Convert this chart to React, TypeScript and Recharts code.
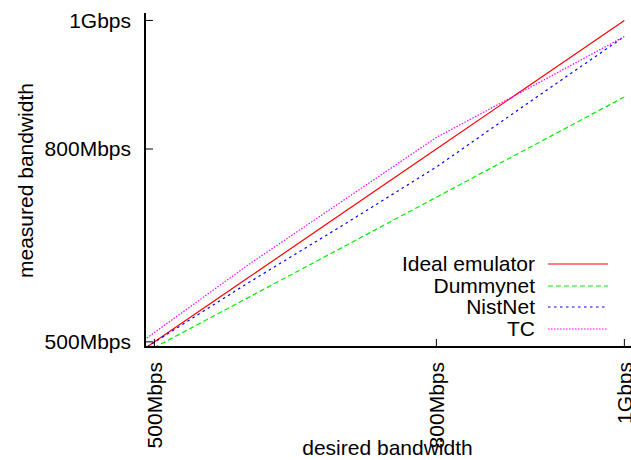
import React from "react";
import { LineChart, Line, XAxis, YAxis, Legend } from "recharts";

// desired bandwidth (Mbps) at each sample
const desired = [492, 600, 700, 800, 900, 1000];

// measured bandwidth (Mbps) per emulator
const idealEmulator = [492, 600, 700, 800, 900, 1000];
const dummynet = [485, 569, 647, 725, 803, 881];
const nistnet = [492, 592, 681, 772, 874, 975];
const tc = [506, 620, 719, 818, 896, 975];

const tickValues = [500, 800, 1000];
const tickLabels = ["500Mbps", "800Mbps", "1Gbps"];

const series = [
  { key: "ideal", name: "Ideal emulator", color: "#ff0000", dash: undefined },
  { key: "dummynet", name: "Dummynet", color: "#00ee00", dash: "5 3" },
  { key: "nistnet", name: "NistNet", color: "#0000ff", dash: "2.5 3.5" },
  { key: "tc", name: "TC", color: "#ff00ff", dash: "1.5 1.5" },
];

const rows = desired.map((x, i) => ({
  x,
  ideal: idealEmulator[i],
  dummynet: dummynet[i],
  nistnet: nistnet[i],
  tc: tc[i],
}));

const FONT = '"Liberation Sans", Arial, Helvetica, sans-serif';
const FONT_SIZE = 21;
const TICK_LEN = 8;

const labelFor = (v: number) => tickLabels[tickValues.indexOf(v)] ?? String(v);

const BottomTick = ({ x, y, payload }: any) => (
  <g>
    <line x1={x} y1={y} x2={x} y2={y - TICK_LEN} stroke="#000" strokeWidth={1} />
    <text
      x={x + 7.5}
      y={y + 15}
      transform={`rotate(-90 ${x + 7.5} ${y + 15})`}
      textAnchor="end"
      fontFamily={FONT}
      fontSize={FONT_SIZE}
      fill="#000"
    >
      {labelFor(payload.value)}
    </text>
  </g>
);

const TopTick = ({ x, y }: any) => (
  <line x1={x} y1={y} x2={x} y2={y + TICK_LEN} stroke="#000" strokeWidth={1} />
);

const LeftTick = ({ x, y, payload }: any) => (
  <g>
    <line x1={x} y1={y} x2={x + TICK_LEN} y2={y} stroke="#000" strokeWidth={1} />
    <text
      x={x - 14}
      y={y + 7.4}
      textAnchor="end"
      fontFamily={FONT}
      fontSize={FONT_SIZE}
      fill="#000"
    >
      {labelFor(payload.value)}
    </text>
  </g>
);

const RightTick = ({ x, y }: any) => (
  <line x1={x} y1={y} x2={x - TICK_LEN} y2={y} stroke="#000" strokeWidth={1} />
);

const renderLegend = () => (
  <div style={{ fontFamily: FONT, fontSize: FONT_SIZE, color: "#000" }}>
    {series.map((s) => (
      <div
        key={s.key}
        style={{ display: "flex", alignItems: "center", height: 21.6, lineHeight: "21.6px" }}
      >
        <div style={{ width: 150, textAlign: "right", whiteSpace: "nowrap" }}>{s.name}</div>
        <svg width={73} height={21.6} style={{ display: "block" }}>
          <line
            x1={13}
            y1={11}
            x2={73}
            y2={11}
            stroke={s.color}
            strokeWidth={1.2}
            strokeDasharray={s.dash}
          />
        </svg>
      </div>
    ))}
  </div>
);

const axisLine = { stroke: "#000", strokeWidth: 2, strokeLinecap: "square" as const };

export default function App() {
  return (
    <div
      style={{
        position: "absolute",
        left: 0,
        top: 0,
        width: 631,
        height: 460,
        background: "#fff",
        overflow: "hidden",
      }}
    >
      <LineChart
        width={631}
        height={460}
        data={rows}
        margin={{ top: 14, right: 1, bottom: 0, left: 0 }}
      >
        <XAxis
          xAxisId="bottom"
          dataKey="x"
          type="number"
          orientation="bottom"
          domain={[490, 1006]}
          allowDataOverflow
          ticks={tickValues}
          interval={0}
          height={113}
          tickSize={0}
          tickMargin={0}
          tick={<BottomTick />}
          tickLine={false}
          axisLine={axisLine}
          label={({ viewBox }: any) => (
            <text
              x={viewBox.x + viewBox.width / 2}
              y={455}
              textAnchor="middle"
              fontFamily={FONT}
              fontSize={FONT_SIZE}
              fill="#000"
            >
              desired bandwidth
            </text>
          )}
        />
        <XAxis
          xAxisId="top"
          dataKey="x"
          type="number"
          orientation="top"
          domain={[490, 1006]}
          allowDataOverflow
          ticks={tickValues}
          interval={0}
          height={0}
          tickSize={0}
          tickMargin={0}
          tick={<TopTick />}
          tickLine={false}
          axisLine={axisLine}
        />
        <YAxis
          yAxisId="left"
          type="number"
          orientation="left"
          domain={[492, 1010]}
          allowDataOverflow
          ticks={tickValues}
          interval={0}
          width={145}
          tickSize={0}
          tickMargin={0}
          tick={<LeftTick />}
          tickLine={false}
          axisLine={axisLine}
          label={({ viewBox }: any) => (
            <text
              x={33}
              y={viewBox.y + viewBox.height / 2}
              transform={`rotate(-90 33 ${viewBox.y + viewBox.height / 2})`}
              textAnchor="middle"
              fontFamily={FONT}
              fontSize={FONT_SIZE}
              fill="#000"
            >
              measured bandwidth
            </text>
          )}
        />
        <YAxis
          yAxisId="right"
          type="number"
          orientation="right"
          domain={[492, 1010]}
          allowDataOverflow
          ticks={tickValues}
          interval={0}
          width={0}
          tickSize={0}
          tickMargin={0}
          tick={<RightTick />}
          tickLine={false}
          axisLine={axisLine}
        />
        <Legend
          layout="vertical"
          align="center"
          verticalAlign="middle"
          content={renderLegend}
          wrapperStyle={{ left: 385, top: 253, width: 230, height: 90 }}
        />
        {series.map((s) => (
          <Line
            key={s.key}
            xAxisId="bottom"
            yAxisId="left"
            dataKey={s.key}
            name={s.name}
            type="linear"
            stroke={s.color}
            strokeWidth={1.2}
            strokeDasharray={s.dash}
            dot={false}
            activeDot={false}
            isAnimationActive={false}
          />
        ))}
      </LineChart>
    </div>
  );
}
